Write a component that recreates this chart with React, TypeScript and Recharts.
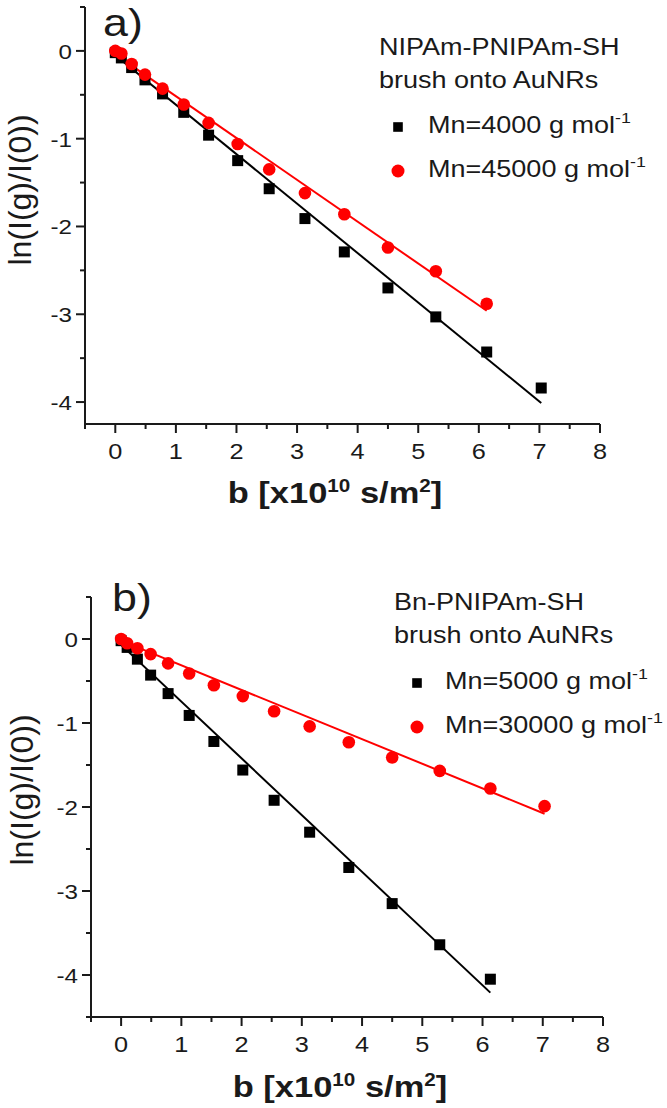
import React from "react";
import { ComposedChart, Line, Scatter, XAxis, YAxis } from "recharts";

// b values [x10^10 s/m^2], shared by all series
const bValues = [0, 0.1, 0.27, 0.49, 0.78, 1.13, 1.54, 2.02, 2.54, 3.13, 3.78, 4.5, 5.29, 6.13, 7.03];

// panel a) NIPAm-PNIPAm-SH brush onto AuNRs
const lnA4000 = [-0.02, -0.08, -0.19, -0.33, -0.49, -0.7, -0.96, -1.25, -1.57, -1.91, -2.29, -2.7, -3.03, -3.43, -3.84];
const lnA45000 = [0, -0.03, -0.15, -0.27, -0.43, -0.61, -0.82, -1.06, -1.35, -1.62, -1.86, -2.24, -2.51, -2.88];
const fitA4000B = [0, 7.03];
const fitA4000Ln = [-0.05, -4.01];
const fitA45000B = [0, 6.13];
const fitA45000Ln = [-0.04, -2.96];

// panel b) Bn-PNIPAm-SH brush onto AuNRs
const lnB5000 = [-0.02, -0.1, -0.24, -0.43, -0.65, -0.91, -1.22, -1.56, -1.92, -2.3, -2.72, -3.15, -3.64, -4.05];
const lnB30000 = [0, -0.05, -0.11, -0.18, -0.29, -0.41, -0.55, -0.68, -0.86, -1.04, -1.23, -1.41, -1.57, -1.78, -1.99];
const fitB5000B = [0, 6.13];
const fitB5000Ln = [-0.07, -4.21];
const fitB30000B = [0, 7.03];
const fitB30000Ln = [-0.02, -2.08];

const xTicks = [-0.5, 0, 0.5, 1, 1.5, 2, 2.5, 3, 3.5, 4, 4.5, 5, 5.5, 6, 6.5, 7, 7.5, 8];
const yTicksA = [-4, -3.5, -3, -2.5, -2, -1.5, -1, -0.5, 0, 0.5];
const yTicksB = [-4.5, -4, -3.5, -3, -2.5, -2, -1.5, -1, -0.5, 0, 0.5];

const headingA = ["NIPAm-PNIPAm-SH", "brush onto AuNRs"];
const headingB = ["Bn-PNIPAm-SH", "brush onto AuNRs"];
const legendA = ["Mn=4000 g mol", "Mn=45000 g mol"];
const legendB = ["Mn=5000 g mol", "Mn=30000 g mol"];

const toPoints = (bs: number[], ys: number[]) => ys.map((y, i) => ({ b: bs[i], y }));

const W = 667;
const H = 554;
const STRETCH = 1.15;
const FONT = '"Liberation Sans", Arial, Helvetica, sans-serif';
const INK = "#1a1a1a";
const RED = "#ff0000";

function XTick(props: any) {
  const { x, y, payload } = props;
  const v = payload.value;
  const major = Number.isInteger(v);
  return (
    <g>
      <line x1={x} y1={y} x2={x} y2={y + (major ? 9 : 5)} stroke={INK} strokeWidth={2} />
      {major && (
        <text
          transform={`translate(${x},${y + 35}) scale(${STRETCH},1)`}
          textAnchor="middle"
          fontSize={22}
          fontFamily={FONT}
          fill={INK}
        >
          {String(v)}
        </text>
      )}
    </g>
  );
}

function YTick(props: any) {
  const { x, y, payload } = props;
  const v = payload.value;
  const major = Number.isInteger(v);
  return (
    <g>
      <line x1={x - (major ? 9 : 5)} y1={y} x2={x} y2={y} stroke={INK} strokeWidth={2} />
      {major && (
        <text
          transform={`translate(${x - 13},${y + 8}) scale(${STRETCH},1)`}
          textAnchor="end"
          fontSize={21}
          fontFamily={FONT}
          fill={INK}
        >
          {String(v)}
        </text>
      )}
    </g>
  );
}

const Square = (p: any) => <rect x={p.cx - 5.5} y={p.cy - 5.5} width={11} height={11} fill="#000" />;
const Dot = (p: any) => <circle cx={p.cx} cy={p.cy} r={6.3} fill={RED} />;

interface PanelLayout {
  margin: { top: number; right: number; bottom: number; left: number };
  letter: [number, number];
  heading: [number, number, number];
  legendMarkX: number;
  legendTextX: number;
  legendRows: [number, number];
  yTitle: [number, number];
  xTitle: [number, number];
}

const layoutA: PanelLayout = {
  margin: { top: 7, right: 67, bottom: 90, left: 25 },
  letter: [103, 36],
  heading: [379, 55, 88],
  legendMarkX: 398,
  legendTextX: 428,
  legendRows: [127, 171],
  yTitle: [31, 190],
  xTitle: [335, 503],
};

const layoutB: PanelLayout = {
  margin: { top: 43, right: 64, bottom: 51, left: 31 },
  letter: [112, 57],
  heading: [394, 56, 89],
  legendMarkX: 417,
  legendTextX: 445,
  legendRows: [129, 173],
  yTitle: [33, 236],
  xTitle: [340, 543],
};

function Panel(props: {
  top: number;
  layout: PanelLayout;
  squares: { b: number; y: number }[];
  circles: { b: number; y: number }[];
  fitSquares: { b: number; y: number }[];
  fitCircles: { b: number; y: number }[];
  yDomain: [number, number];
  yTicks: number[];
  letter: string;
  heading: string[];
  legend: string[];
}) {
  const { layout: L } = props;
  const t = (x: number, y: number) => `translate(${x},${y}) scale(${STRETCH},1)`;
  return (
    <div style={{ position: "absolute", left: 0, top: props.top, width: W, height: H }}>
      <ComposedChart width={W} height={H} margin={L.margin}>
        <XAxis
          type="number"
          dataKey="b"
          domain={[-0.5, 8]}
          ticks={xTicks}
          interval={0}
          allowDataOverflow
          tick={(p: any) => <XTick {...p} />}
          tickLine={false}
          tickSize={0}
          tickMargin={0}
          axisLine={{ stroke: INK, strokeWidth: 2 }}
          height={40}
        />
        <YAxis
          type="number"
          dataKey="y"
          domain={props.yDomain}
          ticks={props.yTicks}
          interval={0}
          allowDataOverflow
          tick={(p: any) => <YTick {...p} />}
          tickLine={false}
          tickSize={0}
          tickMargin={0}
          axisLine={{ stroke: INK, strokeWidth: 2 }}
          width={60}
        />
        <Scatter data={props.squares} fill="#000" shape={Square} isAnimationActive={false} />
        <Line
          data={props.fitSquares}
          dataKey="y"
          stroke="#000"
          strokeWidth={2}
          dot={false}
          activeDot={false}
          isAnimationActive={false}
        />
        <Scatter data={props.circles} fill={RED} shape={Dot} isAnimationActive={false} />
        <Line
          data={props.fitCircles}
          dataKey="y"
          stroke={RED}
          strokeWidth={2}
          dot={false}
          activeDot={false}
          isAnimationActive={false}
        />
      </ComposedChart>
      <svg
        width={W}
        height={H}
        style={{ position: "absolute", left: 0, top: 0, pointerEvents: "none" }}
        fontFamily={FONT}
        fill={INK}
      >
        <text transform={t(L.letter[0], L.letter[1])} fontSize={39}>
          {props.letter}
        </text>
        <text transform={t(L.heading[0], L.heading[1])} fontSize={23.5}>
          {props.heading[0]}
        </text>
        <text transform={t(L.heading[0], L.heading[2])} fontSize={23.5}>
          {props.heading[1]}
        </text>
        <rect x={L.legendMarkX - 4.8} y={L.legendRows[0] - 4.8} width={9.6} height={9.6} fill="#000" />
        <circle cx={L.legendMarkX} cy={L.legendRows[1]} r={6.5} fill={RED} />
        {props.legend.map((s, i) => (
          <text key={s} transform={t(L.legendTextX, L.legendRows[i] + 6)} fontSize={23.5}>
            {s}
            <tspan fontSize={15.5} dy={-10}>
              -1
            </tspan>
          </text>
        ))}
        <text
          transform={`translate(${L.yTitle[0]},${L.yTitle[1]}) rotate(-90)`}
          textAnchor="middle"
          fontSize={32}
        >
          ln(I(g)/I(0))
        </text>
        <text transform={t(L.xTitle[0], L.xTitle[1])} textAnchor="middle" fontSize={30} fontWeight="bold">
          b [x10
          <tspan fontSize={18} dy={-11}>
            10
          </tspan>
          <tspan dy={11}> s/m</tspan>
          <tspan fontSize={18} dy={-11}>
            2
          </tspan>
          <tspan dy={11}>]</tspan>
        </text>
      </svg>
    </div>
  );
}

export default function App() {
  return (
    <div
      style={{
        position: "absolute",
        left: 0,
        top: 0,
        width: W,
        height: 1108,
        background: "#fff",
        overflow: "hidden",
      }}
    >
      <Panel
        top={0}
        layout={layoutA}
        squares={toPoints(bValues, lnA4000)}
        circles={toPoints(bValues, lnA45000)}
        fitSquares={toPoints(fitA4000B, fitA4000Ln)}
        fitCircles={toPoints(fitA45000B, fitA45000Ln)}
        yDomain={[-4.25, 0.5]}
        yTicks={yTicksA}
        letter="a)"
        heading={headingA}
        legend={legendA}
      />
      <Panel
        top={554}
        layout={layoutB}
        squares={toPoints(bValues, lnB5000)}
        circles={toPoints(bValues, lnB30000)}
        fitSquares={toPoints(fitB5000B, fitB5000Ln)}
        fitCircles={toPoints(fitB30000B, fitB30000Ln)}
        yDomain={[-4.5, 0.5]}
        yTicks={yTicksB}
        letter="b)"
        heading={headingB}
        legend={legendB}
      />
    </div>
  );
}
